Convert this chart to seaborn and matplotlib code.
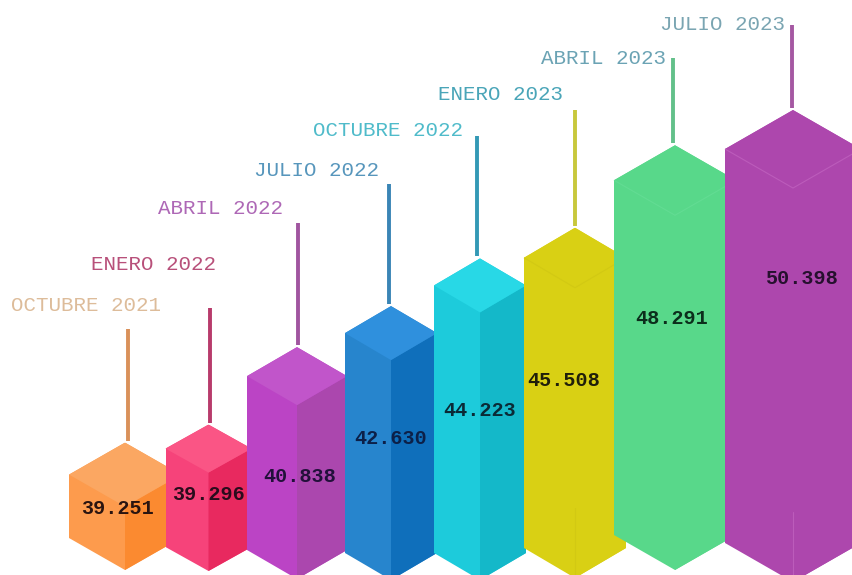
import numpy as np
import pandas as pd
import matplotlib
matplotlib.use("Agg")
import matplotlib.pyplot as plt
from matplotlib.patches import Polygon
import seaborn as sns

# Quarterly figures
periods = ["OCTUBRE 2021", "ENERO 2022", "ABRIL 2022", "JULIO 2022",
           "OCTUBRE 2022", "ENERO 2023", "ABRIL 2023", "JULIO 2023"]
totals = [39251, 39296, 40838, 42630, 44223, 45508, 48291, 50398]

# Prism layout, in canvas pixels
centers = [125, 208.5, 297, 391, 480, 575, 675, 793]
half_widths = [56, 43, 50, 46, 46, 51, 61, 68]
cap_depths = [32, 24, 29, 27, 27, 30, 35, 39]
base_rows = [538, 547, 550, 553, 553, 548, 535, 543]

# Stems and text placement, in canvas pixels
stem_x = [128, 209.5, 298, 389, 477, 575, 673, 792]
stem_len = [114, 117, 124, 122, 122, 118, 87, 85]
period_right = [161, 216, 283, 379, 463, 563, 666, 785]
period_row = [306, 265, 209, 171, 130, 95, 58, 25]
total_x = [117, 208, 300, 391, 480, 564, 672, 801]
total_row = [508, 495, 476, 438, 411, 380, 319, 279]

# Face colours
top_colors = ["#FBA762", "#FA5585", "#C155CA", "#2F90DD", "#28D8E6", "#D9D014", "#58D88A", "#AD47AD"]
left_colors = ["#FD9B4D", "#F6437A", "#BB44C5", "#2785CD", "#1DCBDB", "#D9D014", "#58D88A", "#AD47AD"]
right_colors = ["#FB8A30", "#E8295F", "#AB47AE", "#0F6FBB", "#14B8C9", "#D9D014", "#58D88A", "#AD47AD"]
seam_colors = [None, None, None, None, None, "#D2C913", "#62DC93", "#BC5CBB"]
stem_colors = ["#D9915A", "#B83B6B", "#A0559F", "#3A85B5", "#3399B5", "#C8C83C", "#63C08A", "#A558A2"]
period_colors = ["#DDBC9A", "#B8507A", "#AE68B6", "#5796BC", "#4FBBCA", "#4AA5B8", "#6BA3B4", "#7AA5B2"]
ink_colors = ["#2A1410", "#2A0C1C", "#22103A", "#0C2048", "#0A2A36", "#201F0A", "#0C2E1C", "#26102E"]

# Non-linear value axis: value -> height above the canvas bottom
scale_values = [0, 39250, 39300, 40800, 42600, 44200, 45500, 48300, 50400, 100000]
scale_heights = [-100, 132, 152, 227, 268, 316, 347, 430, 465, 1100]


def forward(v):
    return np.interp(v, scale_values, scale_heights)


def inverse(h):
    return np.interp(h, scale_heights, scale_values)


def offset(v, dh):
    return inverse(forward(v) + dh)


def row(y):
    return inverse(575 - y)


sns.set_theme(style="white")
fig = plt.figure(figsize=(8.52, 5.75), dpi=100, facecolor="white")
ax = fig.add_axes([0, 0, 1, 1])

table = pd.DataFrame({"center": centers, "total": totals, "period": periods})
sns.barplot(data=table, x="center", y="total", hue="period", hue_order=periods,
            palette=left_colors, native_scale=True, dodge=False, legend=False,
            saturation=1, ax=ax)

ax.set_yscale("function", functions=(forward, inverse))
ax.set_xlim(0, 852)
ax.set_ylim(row(575), row(0))
ax.axis("off")

for i, bar in enumerate(ax.patches):
    xc, hw, d, v = centers[i], half_widths[i], cap_depths[i], totals[i]
    z = 2 + i
    base = row(base_rows[i])
    base_tip = row(base_rows[i] + d)
    top = v
    left = offset(v, -d)
    front = offset(v, -2 * d)

    # Each column is the seaborn bar trimmed to a hexagonal outline
    bar.set_x(xc - hw)
    bar.set_width(2 * hw)
    bar.set_zorder(z)
    bar.set_edgecolor("none")
    outline = Polygon([(xc, top), (xc + hw, left), (xc + hw, base), (xc, base_tip),
                       (xc - hw, base), (xc - hw, left)],
                      closed=True, transform=ax.transData)
    bar.set_clip_path(outline)

    ax.add_patch(Polygon([(xc, front), (xc + hw, left), (xc + hw, base), (xc, base_tip)],
                         closed=True, fc=right_colors[i], ec="none", zorder=z))
    ax.add_patch(Polygon([(xc, top), (xc + hw, left), (xc, front), (xc - hw, left)],
                         closed=True, fc=top_colors[i], ec="none", zorder=z))

    if seam_colors[i]:
        ax.plot([xc - hw, xc, xc + hw], [left, front, left], color=seam_colors[i],
                lw=0.8, zorder=z, solid_capstyle="butt")
        if i != 6:
            ax.plot([xc, xc], [row(base_rows[i] + d - 70), base_tip],
                    color=seam_colors[i], lw=0.8, zorder=z)

    sns.lineplot(x=[stem_x[i], stem_x[i]], y=[offset(v, 2), offset(v, stem_len[i])],
                 color=stem_colors[i], lw=2.8, ax=ax, zorder=1, estimator=None,
                 sort=False, solid_capstyle="butt")

    ax.text(period_right[i], row(period_row[i]), periods[i], ha="right", va="center",
            color=period_colors[i], fontsize=15, family="Liberation Mono", zorder=20)
    ax.text(total_x[i], row(total_row[i]), f"{v:,}".replace(",", "."), ha="center",
            va="center", color=ink_colors[i], fontsize=14.5, fontweight="bold",
            family="Liberation Mono", zorder=20)

fig.savefig("out.png", dpi=100, facecolor="white")
